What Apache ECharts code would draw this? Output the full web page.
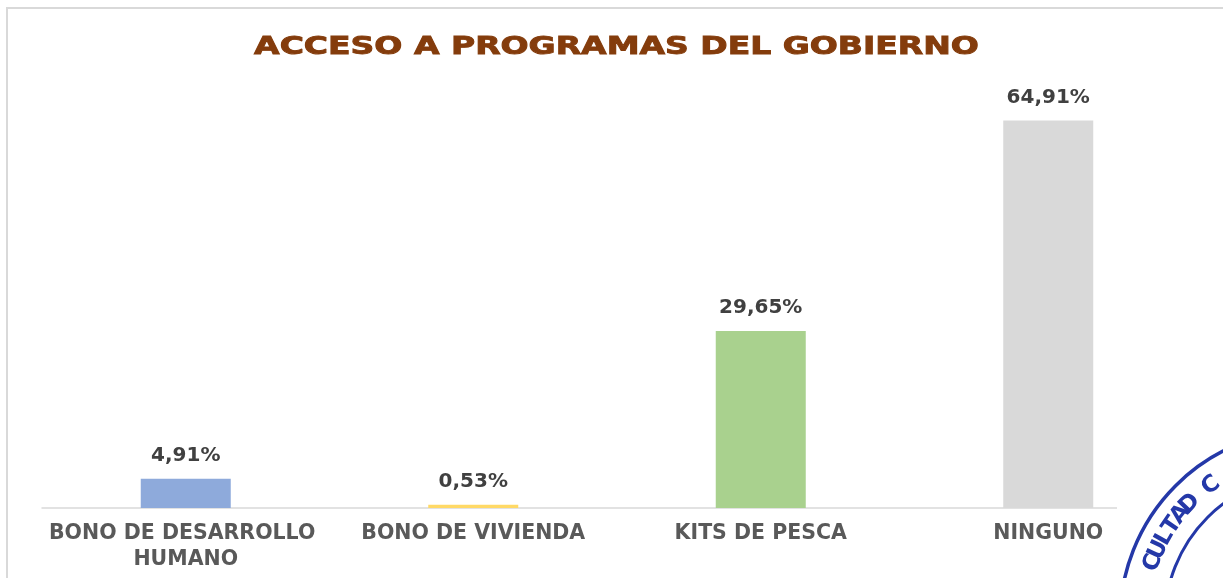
<!DOCTYPE html>
<html>
<head>
<meta charset="utf-8">
<script src="https://cdn.jsdelivr.net/npm/echarts@6/dist/echarts.min.js"></script>
<style>
html,body{margin:0;padding:0;background:#fff;}
#chart{width:1223px;height:578px;}
</style>
</head>
<body>
<div id="chart"></div>
<script>
const titleText = 'ACCESO A PROGRAMAS DEL GOBIERNO';
const categories = ['BONO DE DESARROLLO HUMANO', 'BONO DE VIVIENDA', 'KITS DE PESCA', 'NINGUNO'];
const values = [4.91, 0.53, 29.65, 64.91];
const barColors = ['#8eaadb', '#ffd966', '#a9d18e', '#d9d9d9'];
const stampLetters = ['C', 'U', 'L', 'T', 'A', 'D', '', 'C'];

const chart = echarts.init(document.getElementById('chart'), null, {renderer: 'canvas'});

// decorative stamp (bottom-right), drawn as graphic elements
const stampCx = 1310, stampCy = 620, stampR = 190, stampr = 145, textR = 167;
const stampColor = '#2438a8';
const stampEls = [
  {type: 'rect', shape: {x: 1117, y: 440, width: 120, height: 150}, style: {fill: '#fff'}, z: 100},
  {type: 'circle', shape: {cx: stampCx, cy: stampCy, r: stampR}, style: {fill: 'none', stroke: stampColor, lineWidth: 3.5}, z: 101},
  {type: 'circle', shape: {cx: stampCx, cy: stampCy, r: stampr}, style: {fill: 'none', stroke: stampColor, lineWidth: 3}, z: 101}
];
stampLetters.forEach(function (ch, i) {
  if (!ch) return;
  const deg = -160 + i * 4.8;
  const th = deg * Math.PI / 180;
  stampEls.push({
    type: 'text',
    x: stampCx + textR * Math.cos(th),
    y: stampCy + textR * Math.sin(th),
    rotation: -(th + Math.PI / 2),
    style: {text: ch, fill: stampColor, font: 'bold 23px "DejaVu Sans"', align: 'center', verticalAlign: 'middle'},
    z: 102
  });
});

const option = {
  backgroundColor: '#ffffff',
  animation: false,
  grid: {left: 42, right: 31, top: 90, bottom: 70},
  xAxis: {
    type: 'category',
    data: categories,
    axisLine: {show: true, lineStyle: {color: '#d9d9d9', width: 1.5}},
    axisTick: {show: false},
    axisLabel: {
      color: '#595959',
      fontSize: 20.5,
      fontWeight: 'bold',
      fontFamily: '"DejaVu Sans", sans-serif',
      margin: 13,
      lineHeight: 26,
      width: 285,
      overflow: 'break',
      interval: 0
    }
  },
  yAxis: {
    type: 'value',
    min: 0,
    max: 70,
    show: false,
    splitLine: {show: false}
  },
  series: [{
    type: 'bar',
    barWidth: 90,
    data: values.map(function (v, i) {
      return {value: v, itemStyle: {color: barColors[i]}};
    }),
    label: {
      show: true,
      position: 'top',
      distance: 13,
      color: '#404040',
      fontSize: 20,
      fontWeight: 'bold',
      fontFamily: '"DejaVu Sans", sans-serif',
      formatter: function (p) {
        return p.value.toFixed(2).replace('.', ',') + '%';
      }
    }
  }],
  graphic: [
    {type: 'rect', shape: {x: 7, y: 8, width: 1400, height: 800}, style: {fill: 'none', stroke: '#d9d9d9', lineWidth: 2}, z: 50},
    {
      type: 'text',
      x: 616.5,
      y: 47,
      scaleX: 1.32,
      style: {
        text: titleText,
        fill: '#843c0c',
        stroke: '#843c0c',
        lineWidth: 0.9,
        font: 'bold 25px "DejaVu Sans", sans-serif',
        align: 'center',
        verticalAlign: 'middle'
      },
      z: 60
    }
  ].concat(stampEls)
};

chart.setOption(option);
</script>
</body>
</html>
